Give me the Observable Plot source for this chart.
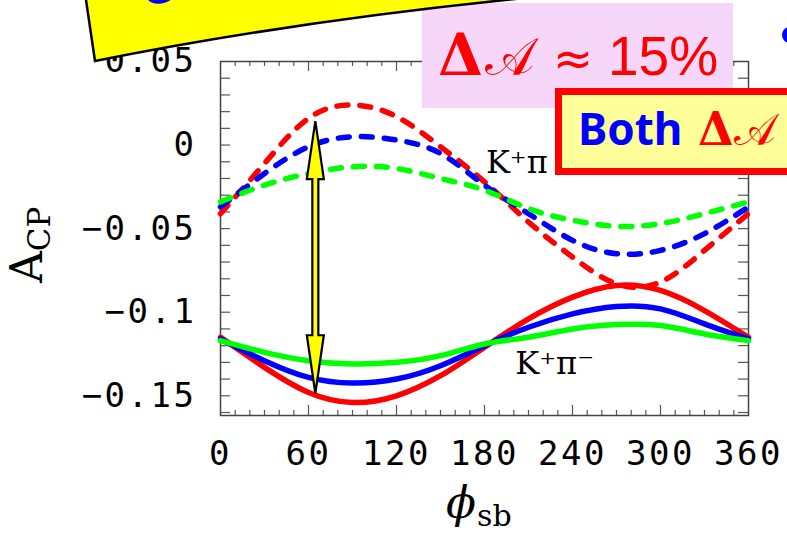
<!DOCTYPE html>
<html><head><meta charset="utf-8">
<script src="https://cdn.jsdelivr.net/npm/d3@7"></script>
<script src="https://cdn.jsdelivr.net/npm/@observablehq/plot@0.6"></script>
<style>
html,body{margin:0;padding:0;background:#fff;}
#wrap{position:relative;width:787px;height:533px;overflow:hidden;}
#wrap > svg{position:absolute;left:0;top:0;}
</style></head><body><div id="wrap"></div>
<script>
// phase angle phi_sb (degrees)
const phi = [0, 30, 60, 90, 120, 150, 180, 210, 240, 270, 300, 330, 360];
// K+ pi0 (dashed)
const kpi0Red   = [-0.041, -0.011, 0.016, 0.024, 0.017, -0.001, -0.022, -0.046, -0.067, -0.083, -0.082, -0.063, -0.041];
const kpi0Blue  = [-0.037, -0.017, -0.001, 0.005, 0.003, -0.005, -0.024, -0.041, -0.057, -0.065, -0.063, -0.053, -0.037];
const kpi0Green = [-0.034, -0.024, -0.017, -0.013, -0.014, -0.020, -0.027, -0.038, -0.045, -0.0486, -0.047, -0.041, -0.034];
// K+ pi- (solid)
const kpimRed   = [-0.115, -0.133, -0.148, -0.154, -0.150, -0.138, -0.121, -0.104, -0.091, -0.084, -0.087, -0.099, -0.115];
const kpimBlue  = [-0.116, -0.129, -0.139, -0.1424, -0.140, -0.132, -0.120, -0.109, -0.101, -0.0966, -0.098, -0.107, -0.116];
const kpimGreen = [-0.117, -0.124, -0.129, -0.131, -0.130, -0.126, -0.119, -0.115, -0.110, -0.1074, -0.108, -0.113, -0.117];
// double arrow
const arrowPhi = [65];
const arrowTop = [0.014];
const arrowBottom = [-0.1488];
// curve labels
const labelText = ["K\u207A\u03C0", "K\u207A\u03C0\u207B"];
const labelPhi = [181, 201];
const labelY = [-0.017, -0.1367];
// ticks
const xTicks = [0, 60, 120, 180, 240, 300, 360];
const xTickLabels = ["0", "60", "120", "180", "240", "300", "360"];
const yTicks = [0.05, 0, -0.05, -0.1, -0.15];
const yTickLabels = ["0.05", "0", "\u22120.05", "\u22120.1", "\u22120.15"];
const xMinor = d3.range(10, 360, 10).filter(d => d % 60 !== 0);
const xMajor = [60, 120, 180, 240, 300];
const yMinor = d3.range(-16, 5).map(d => d / 100);

const series = [
  {name: "kpi0Red", values: kpi0Red, color: "#ff0000", dashed: true},
  {name: "kpi0Blue", values: kpi0Blue, color: "#0000ff", dashed: true},
  {name: "kpi0Green", values: kpi0Green, color: "#00ff00", dashed: true},
  {name: "kpimRed", values: kpimRed, color: "#ff0000", dashed: false},
  {name: "kpimBlue", values: kpimBlue, color: "#0000ff", dashed: false},
  {name: "kpimGreen", values: kpimGreen, color: "#00ff00", dashed: false}
];

const W = 787, H = 533, mL = 220, mR = 39, mT = 61, mB = 118;
const plotW = W - mL - mR, plotH = H - mT - mB;
const tickColor = "#555";

const lineMarks = series.map(s => Plot.line(phi.map((p, i) => ({phi: p, v: s.values[i]})), {
  x: "phi", y: "v", stroke: s.color, strokeWidth: 5.5,
  strokeDasharray: s.dashed ? "11,12" : null,
  strokeLinecap: "round", curve: "natural"
}));

const labels = labelText.map((t, i) => ({t, x: labelPhi[i], y: labelY[i]}));

const chart = Plot.plot({
  width: W, height: H,
  marginLeft: mL, marginRight: mR, marginTop: mT, marginBottom: mB,
  style: "font-family: 'DejaVu Sans Mono'; font-size: 34px; background: transparent; color: #000;",
  x: {domain: [0, 360], ticks: xTicks, tickSize: 0, tickPadding: 25, label: null,
      tickFormat: d => xTickLabels[xTicks.indexOf(d)]},
  y: {domain: [-0.1618, 0.05], ticks: yTicks, tickSize: 0, tickPadding: 24, label: null,
      tickFormat: d => yTickLabels[yTicks.indexOf(d)]},
  marks: [
    Plot.ruleX(xMinor, {stroke: tickColor, strokeWidth: 1.2, insetBottom: plotH - 5}),
    Plot.ruleX(xMajor, {stroke: tickColor, strokeWidth: 1.2, insetBottom: plotH - 10}),
    Plot.ruleX(xMinor, {stroke: tickColor, strokeWidth: 1.2, insetTop: plotH - 5}),
    Plot.ruleX(xMajor, {stroke: tickColor, strokeWidth: 1.2, insetTop: plotH - 10}),
    Plot.ruleY(yMinor, {stroke: tickColor, strokeWidth: 1.2, insetRight: plotW - 10}),
    Plot.ruleY(yMinor, {stroke: tickColor, strokeWidth: 1.2, insetLeft: plotW - 10}),
    Plot.frame({stroke: "#444", strokeWidth: 1.5}),
    ...lineMarks,
    Plot.text(labels, {x: "x", y: "y", text: "t", textAnchor: "start", lineAnchor: "bottom",
      fontFamily: "DejaVu Serif", fontSize: 32, fill: "#000"})
  ]
});

const wrap = document.getElementById("wrap");
wrap.appendChild(chart);

// axis label styling
d3.select(chart).selectAll('g[aria-label^="x-axis"] text, g[aria-label^="y-axis"] text')
  .attr("font-size", 34).style("letter-spacing", "2.5px");

// double-headed arrow via the plot's own scales
const sx = chart.scale("x"), sy = chart.scale("y");
const ax = sx.apply(arrowPhi[0]), at = sy.apply(arrowTop[0]), ab = sy.apply(arrowBottom[0]);
const hl = 58, hw = 8.5, sw = 3;
const arrowPath = `M${ax},${at} L${ax + hw},${at + hl} L${ax + sw},${at + hl} L${ax + sw},${ab - hl} L${ax + hw},${ab - hl} L${ax},${ab} L${ax - hw},${ab - hl} L${ax - sw},${ab - hl} L${ax - sw},${at + hl} L${ax - hw},${at + hl} Z`;
d3.select(chart).append("path").attr("d", arrowPath)
  .attr("fill", "#ffff00").attr("stroke", "#000").attr("stroke-width", 2.2).attr("stroke-linejoin", "miter");

// slide decorations and axis titles
const ov = document.createElementNS("http://www.w3.org/2000/svg", "svg");
ov.setAttribute("width", W); ov.setAttribute("height", H);
ov.style.pointerEvents = "none";
ov.innerHTML = `
  <rect x="422" y="3" width="311" height="105" fill="#f6d7f9"/>
  <text y="75" fill="#ff0000">
    <tspan x="438" font-family="DejaVu Serif" font-weight="bold" font-size="58">\u0394</tspan><tspan x="485" font-family="DejaVu Serif, DejaVu Sans, serif" font-size="52">\u{1D49C}</tspan><tspan x="553" font-family="DejaVu Sans" font-size="48">\u2248</tspan><tspan x="608" font-family="Liberation Sans" font-size="55">15%</tspan>
  </text>
  <path d="M84,-40 L86,0 L95,61 Q300,20 535,-3 L540,-40 Z" fill="#ffff00" stroke="#000" stroke-width="2.5"/>
  <text transform="translate(143,6) rotate(-9.5)" font-family="Noto Sans" font-weight="bold" font-size="48" fill="#0000ff">Constraints</text>
  <rect x="558.5" y="91.5" width="260" height="80" fill="#ffff99" stroke="#ff0000" stroke-width="7"/>
  <text x="578" y="145" font-family="Noto Sans" font-weight="bold" font-size="44" fill="#0000ff">Both</text>
  <text y="145" fill="#ff0000"><tspan x="698" font-family="DejaVu Serif" font-weight="bold" font-size="46">\u0394</tspan><tspan x="734" font-family="DejaVu Serif, DejaVu Sans, serif" font-size="44">\u{1D49C}</tspan></text>
  <ellipse cx="790" cy="35" rx="8" ry="8" fill="#0000ff"/>
  <text y="518"><tspan x="446" font-family="DejaVu Serif" font-style="italic" font-size="44">\u03D5</tspan><tspan x="477" y="526" font-family="DejaVu Serif" font-size="30">sb</tspan></text>
  <text transform="translate(42,283) rotate(-90)"><tspan font-family="DejaVu Serif" font-size="44">A</tspan><tspan dy="8" font-family="DejaVu Serif" font-size="31">CP</tspan></text>
`;
wrap.appendChild(ov);
</script></body></html>
